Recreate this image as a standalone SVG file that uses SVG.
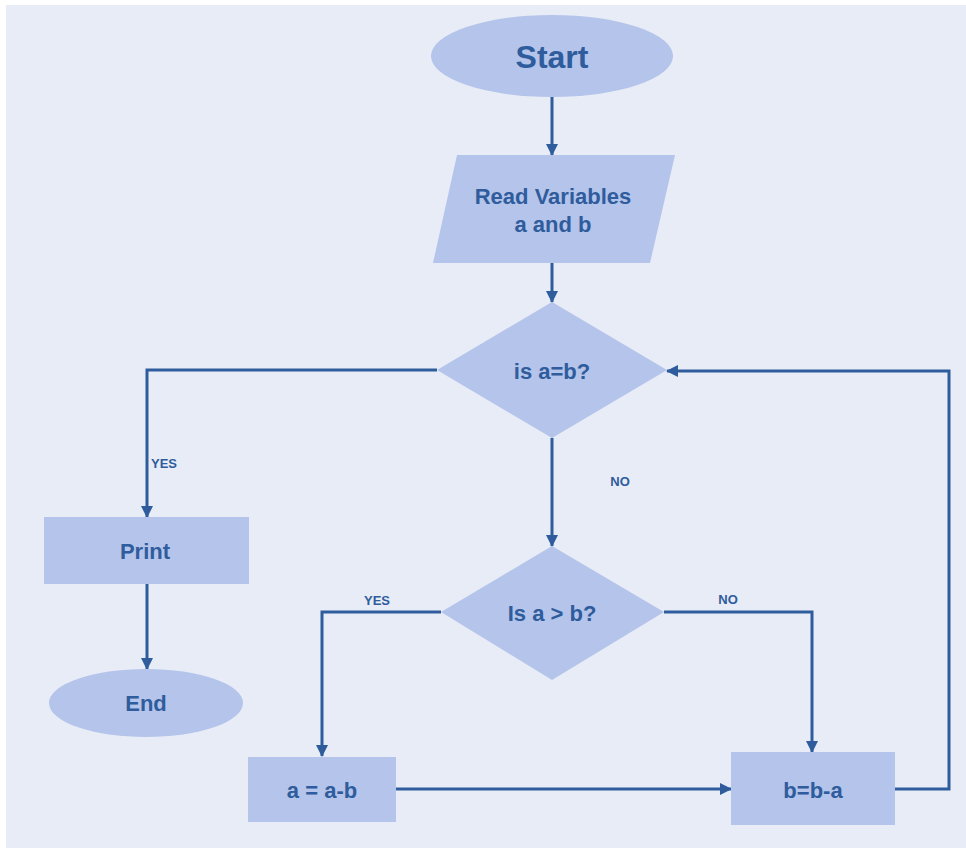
<svg xmlns="http://www.w3.org/2000/svg" width="966" height="848" viewBox="0 0 966 848">
<defs>
<marker id="ah" viewBox="0 0 12 12" refX="11" refY="6" markerWidth="12" markerHeight="12" markerUnits="userSpaceOnUse" orient="auto">
<path d="M0,0 L12,6 L0,12 Z" fill="#2f5c9c"/>
</marker>
<style>
.shape{fill:#b4c4ea;stroke:none}
.lbl{font-family:"Liberation Sans",Arial,sans-serif;font-weight:bold;fill:#2f5c9c;text-anchor:middle;dominant-baseline:central}
.big{font-size:22px}
.small{font-size:13px}
.con{fill:none;stroke:#2f5c9c;stroke-width:3}
.arr{marker-end:url(#ah)}
</style>
</defs>
<rect x="0" y="0" width="966" height="848" fill="#ffffff"/>
<rect x="6" y="5" width="960" height="843" fill="#e8ecf7"/>

<g id="connectors">
<path class="con arr" d="M552,97 L552,155"/>
<path class="con arr" d="M552,263 L552,302"/>
<path class="con arr" d="M437,370 L147,370 L147,517"/>
<path class="con arr" d="M147,584 L147,669"/>
<path class="con arr" d="M552,438 L552,546"/>
<path class="con arr" d="M441,612 L322,612 L322,756"/>
<path class="con arr" d="M664,612 L812,612 L812,752"/>
<path class="con arr" d="M396,789 L731,789"/>
<path class="con arr" d="M895,789 L949,789 L949,371 L667,371"/>
<text class="lbl small" x="164" y="463">YES</text>
<text class="lbl small" x="620" y="481">NO</text>
<text class="lbl small" x="377" y="600">YES</text>
<text class="lbl small" x="728" y="599">NO</text>
</g>

<g id="start">
<ellipse class="shape" cx="552" cy="56" rx="121" ry="41"/>
<text class="lbl" style="font-size:32px" x="552" y="57">Start</text>
</g>

<g id="read">
<polygon class="shape" points="457,155 675,155 650,263 433,263"/>
<text class="lbl big" x="553" y="196">Read Variables</text>
<text class="lbl big" x="553" y="224">a and b</text>
</g>

<g id="decision1">
<polygon class="shape" points="552,302 667,370 552,438 437,370"/>
<text class="lbl big" x="552" y="371">is a=b?</text>
</g>

<g id="print">
<rect class="shape" x="44" y="517" width="205" height="67"/>
<text class="lbl big" x="145" y="551">Print</text>
</g>

<g id="end">
<ellipse class="shape" cx="146" cy="703" rx="97" ry="34"/>
<text class="lbl big" x="146" y="703">End</text>
</g>

<g id="decision2">
<polygon class="shape" points="552,546 664,612 552,680 441,612"/>
<text class="lbl big" x="552" y="613">Is a &gt; b?</text>
</g>

<g id="asub">
<rect class="shape" x="248" y="757" width="148" height="65"/>
<text class="lbl big" x="322" y="790">a = a-b</text>
</g>

<g id="bsub">
<rect class="shape" x="731" y="752" width="164" height="73"/>
<text class="lbl big" x="813" y="790">b=b-a</text>
</g>
</svg>
